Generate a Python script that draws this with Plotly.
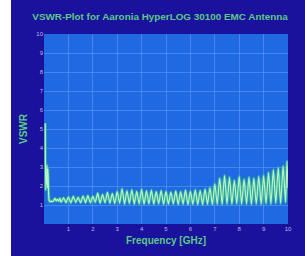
import plotly.graph_objects as go

freq_ghz = [0.05, 0.07, 0.10, 0.12, 0.14, 0.16, 0.19, 0.21, 0.25, 0.30, 0.35, 0.40, 0.45,
            0.50, 0.55, 0.60, 0.65,
            0.7, 0.8, 0.9, 1.0, 1.1, 1.2, 1.3, 1.4, 1.5, 1.6, 1.7, 1.8, 1.9,
            2.0, 2.1, 2.2, 2.3, 2.4, 2.5, 2.6, 2.7, 2.8, 2.9,
            3.0, 3.1, 3.2, 3.3, 3.4, 3.5, 3.6, 3.7, 3.8, 3.9,
            4.0, 4.1, 4.2, 4.3, 4.4, 4.5, 4.6, 4.7, 4.8, 4.9,
            5.0, 5.1, 5.2, 5.3, 5.4, 5.5, 5.6, 5.7, 5.8, 5.9,
            6.0, 6.1, 6.2, 6.3, 6.4, 6.5, 6.6, 6.7, 6.8, 6.9,
            7.0, 7.1, 7.2, 7.3, 7.4, 7.5, 7.6, 7.7, 7.8, 7.9,
            8.0, 8.1, 8.2, 8.3, 8.4, 8.5, 8.6, 8.7, 8.8, 8.9,
            9.0, 9.1, 9.2, 9.3, 9.4, 9.5, 9.6, 9.7, 9.8, 9.9, 9.96, 10.0]

vswr = [5.3, 1.8, 2.6, 3.1, 1.9, 2.9, 1.6, 1.25, 1.18, 1.20, 1.17, 1.25, 1.35,
        1.22, 1.30, 1.20, 1.35,
        1.15, 1.38, 1.13, 1.42, 1.12, 1.45, 1.14, 1.40, 1.12, 1.47, 1.13, 1.50, 1.12,
        1.45, 1.15, 1.62, 1.10, 1.55, 1.12, 1.66, 1.10, 1.60, 1.08,
        1.70, 1.10, 1.85, 1.05, 1.75, 1.08, 1.80, 1.05, 1.72, 1.06,
        1.82, 1.04, 1.75, 1.06, 1.78, 1.05, 1.70, 1.07, 1.76, 1.04,
        1.72, 1.05, 1.68, 1.06, 1.74, 1.03, 1.70, 1.05, 1.78, 1.02,
        1.72, 1.04, 1.80, 1.03, 1.76, 1.02, 1.84, 1.04, 1.90, 1.03,
        2.10, 1.05, 2.40, 1.04, 2.55, 1.06, 2.45, 1.05, 2.30, 1.07,
        2.50, 1.05, 2.35, 1.06, 2.45, 1.04, 2.40, 1.06, 2.50, 1.05,
        2.55, 1.08, 2.70, 1.06, 2.85, 1.10, 2.95, 1.08, 3.05, 1.15, 3.30, 1.9]

x_ticks = [1, 2, 3, 4, 5, 6, 7, 8, 9, 10]
y_ticks = [1, 2, 3, 4, 5, 6, 7, 8, 9, 10]

title_text = "VSWR-Plot for Aaronia HyperLOG 30100 EMC Antenna"
x_title = "Frequency [GHz]"
y_title = "VSWR"

GREEN = "#5cc98a"
fig = go.Figure()
fig.add_trace(go.Scatter(x=freq_ghz, y=vswr, mode="lines",
                         line=dict(color="rgba(60,210,120,0.6)", width=3.2, shape="spline", smoothing=0.6),
                         hoverinfo="skip", showlegend=False))
fig.add_trace(go.Scatter(x=freq_ghz, y=vswr, mode="lines",
                         line=dict(color="#b8f5c4", width=1.2, shape="spline", smoothing=0.6),
                         showlegend=False))

fig.update_layout(
    width=294, height=256,
    margin=dict(l=29, r=17, t=34, b=24),
    paper_bgcolor="#1a119c",
    plot_bgcolor="#1f69e2",
    title=dict(text="<b>" + title_text + "</b>", x=0.507, xanchor="center", y=0.935, yanchor="middle",
               font=dict(family="Liberation Sans, Arial", size=9.9, color=GREEN)),
    font=dict(family="Liberation Sans, Arial"),
    xaxis=dict(range=[0, 10], tickvals=x_ticks, ticktext=[str(v) for v in x_ticks],
               showgrid=True, gridcolor="rgba(110,170,255,0.45)", gridwidth=1,
               zeroline=False, showline=False, ticks="",
               tickfont=dict(size=6, color="#b8bde8"),
               title=dict(text="<b>" + x_title + "</b>", font=dict(size=10, color=GREEN), standoff=5)),
    yaxis=dict(range=[0, 10], tickvals=y_ticks, ticktext=[str(v) for v in y_ticks],
               showgrid=True, gridcolor="rgba(110,170,255,0.45)", gridwidth=1,
               zeroline=False, showline=False, ticks="",
               tickfont=dict(size=6, color="#b8bde8"),
               title=dict(text="<b>" + y_title + "</b>", font=dict(size=10, color=GREEN), standoff=6)),
)

fig.write_html("out.html", config={"displayModeBar": False},
               post_script="document.body.style.margin='0 0 0 11px';document.body.style.background='white';")
